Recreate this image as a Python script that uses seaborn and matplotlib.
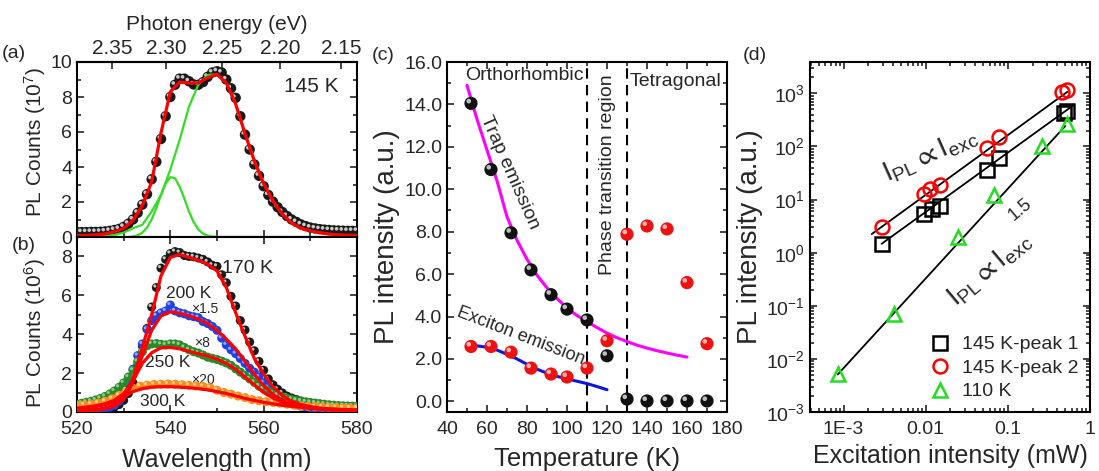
import numpy as np
import matplotlib
matplotlib.use("Agg")
import matplotlib.pyplot as plt
import matplotlib.transforms as mtransforms
from matplotlib.ticker import MultipleLocator, FixedLocator, LogLocator, NullFormatter, FuncFormatter
from matplotlib.lines import Line2D
import seaborn as sns

sns.set_style("ticks")
plt.rcParams["font.family"] = ["Liberation Sans", "DejaVu Sans"]
plt.rcParams["mathtext.fontset"] = "custom"
plt.rcParams["mathtext.rm"] = "Liberation Sans"
plt.rcParams["mathtext.it"] = "Liberation Sans:italic"
plt.rcParams["mathtext.default"] = "regular"
plt.rcParams["xtick.direction"] = "in"
plt.rcParams["ytick.direction"] = "in"
plt.rcParams["axes.linewidth"] = 1.5
plt.rcParams["axes.edgecolor"] = "black"

# ---------------- data ----------------
# (a) 145 K spectrum, 10^7 counts
wl_1nm = np.arange(520, 581)
wl_2nm = np.arange(520, 581, 2)
wl_300 = np.arange(520, 580.1, 1.5)

pl_145 = [0.28, 0.28, 0.28, 0.29, 0.29, 0.30, 0.32, 0.35, 0.40, 0.46,
          0.58, 0.76, 1.00, 1.38, 1.85, 2.45, 3.30, 4.30, 5.60, 6.90,
          8.00, 8.70, 9.05, 9.05, 8.90, 8.72, 8.70, 8.85, 9.15, 9.40,
          9.47, 9.40, 9.00, 8.50, 7.95, 6.90, 5.85, 5.00, 4.15, 3.50,
          2.90, 2.40, 2.02, 1.70, 1.43, 1.20, 1.00, 0.86, 0.72, 0.62,
          0.54, 0.49, 0.45, 0.42, 0.40, 0.38, 0.37, 0.36, 0.35, 0.35, 0.35]
fit_145 = [0.08, 0.09, 0.12, 0.18, 0.30, 0.50, 0.95, 1.80, 3.15, 5.95,
           8.30, 8.85, 8.80, 8.80, 9.10, 9.30, 8.80, 7.60, 5.90, 4.35,
           3.05, 2.05, 1.30, 0.80, 0.50, 0.35, 0.25, 0.17, 0.12, 0.10, 0.08]
peak1_145 = [0.0, 0.0, 0.0, 0.0, 0.0, 0.0, 0.0, 0.0, 0.0, 0.0,
             0.0, 0.0, 0.03, 0.10, 0.25, 0.53, 1.00, 1.66, 2.41, 3.05,
             3.42, 3.36, 2.87, 2.20, 1.45, 0.85, 0.43, 0.19, 0.08, 0.03,
             0.01, 0.0, 0.0, 0.0, 0.0, 0.0, 0.0, 0.0, 0.0, 0.0,
             0.0, 0.0, 0.0, 0.0, 0.0, 0.0, 0.0, 0.0, 0.0, 0.0,
             0.0, 0.0, 0.0, 0.0, 0.0, 0.0, 0.0, 0.0, 0.0, 0.0, 0.0]
peak2_145 = [0.0, 0.01, 0.02, 0.05, 0.12, 0.25, 0.50, 0.70, 1.45, 2.40,
             3.85, 5.55, 7.45, 8.70, 9.25, 9.30, 8.80, 7.60, 5.90, 4.35,
             3.05, 2.05, 1.30, 0.80, 0.50, 0.35, 0.25, 0.17, 0.12, 0.10, 0.08]

# (b) spectra at higher temperature, 10^6 counts (scaled)
pl_170 = [0.05, 0.05, 0.06, 0.07, 0.08, 0.10, 0.13, 0.18, 0.25, 0.38,
          0.60, 0.95, 1.50, 2.40, 3.40, 4.30, 5.40, 6.40, 7.40, 7.85,
          8.15, 8.25, 8.20, 8.05, 8.00, 7.98, 7.92, 7.85, 7.72, 7.55,
          7.49, 7.06, 6.65, 5.95, 5.45, 4.70, 4.22, 3.60, 3.15, 2.60,
          2.15, 1.70, 1.40, 1.17, 0.98, 0.82, 0.72, 0.64, 0.56, 0.50,
          0.45, 0.40, 0.36, 0.32, 0.29, 0.26, 0.24, 0.22, 0.20, 0.19, 0.18]
pl_200 = [0.10, 0.10, 0.11, 0.12, 0.13, 0.15, 0.18, 0.25, 0.35, 0.55,
          0.90, 1.45, 2.20, 2.90, 3.50, 4.25, 4.70, 4.95, 5.10, 5.20,
          5.50, 5.20, 5.10, 5.05, 4.95, 4.90, 4.85, 4.65, 4.55, 4.40,
          4.20, 3.80, 3.45, 3.20, 3.00, 2.75, 2.50, 2.25, 2.05, 1.80,
          1.50, 1.25, 1.00, 0.80, 0.65, 0.52, 0.43, 0.36, 0.30, 0.26,
          0.23, 0.20, 0.18, 0.16, 0.15, 0.14, 0.13, 0.12, 0.12, 0.11, 0.11]
pl_250 = [0.40, 0.45, 0.50, 0.55, 0.62, 0.70, 0.80, 0.93, 1.08, 1.27,
          1.50, 1.80, 2.15, 2.60, 3.10, 3.40, 3.50, 3.52, 3.48, 3.45,
          3.50, 3.50, 3.45, 3.32, 3.20, 3.10, 3.03, 2.93, 2.82, 2.76,
          2.70, 2.62, 2.52, 2.40, 2.22, 2.05, 1.88, 1.70, 1.52, 1.33,
          1.20, 1.07, 0.96, 0.86, 0.78, 0.71, 0.65, 0.60, 0.56, 0.52,
          0.49, 0.46, 0.43, 0.40, 0.37, 0.35, 0.33, 0.32, 0.31, 0.30, 0.29]
pl_300 = [0.33, 0.36, 0.40, 0.46, 0.55, 0.68, 0.85, 1.03, 1.22, 1.33,
          1.38, 1.42, 1.43, 1.44, 1.43, 1.40, 1.37, 1.34, 1.31, 1.25,
          1.12, 1.00, 0.92, 0.82, 0.74, 0.64, 0.58, 0.53, 0.49, 0.45,
          0.40, 0.35, 0.32, 0.29, 0.27, 0.26, 0.24, 0.22, 0.21, 0.20, 0.19]
fit_170 = [0.05, 0.08, 0.12, 0.20, 0.40, 0.75, 1.70, 3.30, 5.00, 7.00,
           7.95, 8.10, 7.95, 7.80, 7.60, 7.25, 6.40, 5.10, 3.90, 2.75,
           1.95, 1.30, 0.85, 0.55, 0.38, 0.28, 0.20, 0.15, 0.12, 0.10, 0.09]
fit_200 = [0.05, 0.07, 0.10, 0.15, 0.30, 0.65, 1.50, 2.90, 4.20, 4.95,
           5.15, 5.08, 4.95, 4.78, 4.55, 4.20, 3.75, 3.25, 2.60, 1.95,
           1.35, 0.90, 0.60, 0.40, 0.28, 0.20, 0.15, 0.12, 0.10, 0.09, 0.08]
fit_250 = [0.20, 0.25, 0.32, 0.42, 0.60, 0.95, 1.60, 2.50, 3.05, 3.30,
           3.32, 3.25, 3.12, 3.00, 2.88, 2.72, 2.50, 2.20, 1.80, 1.40,
           1.00, 0.72, 0.50, 0.35, 0.25, 0.18, 0.14, 0.11, 0.09, 0.08, 0.07]
fit_300 = [0.18, 0.22, 0.28, 0.38, 0.55, 0.80, 1.05, 1.20, 1.28, 1.30,
           1.30, 1.28, 1.25, 1.20, 1.14, 1.05, 0.95, 0.83, 0.70, 0.60,
           0.50, 0.42, 0.35, 0.29, 0.25, 0.21, 0.18, 0.16, 0.14, 0.12, 0.11]

# (c) integrated intensity vs temperature
temp_c = [52, 62, 72, 82, 92, 100, 110, 120, 130, 140, 150, 160, 170]
trap_c = [14.05, 10.93, 7.95, 6.20, 5.03, 4.35, 3.84, 2.15, 0.11, 0.02, 0.02, 0.02, 0.02]
exciton_c = [2.59, 2.59, 2.32, 1.57, 1.29, 1.15, 1.57, 2.86, 7.88, 8.27, 8.13, 5.60, 2.72]
temp_trap_fit = np.arange(50, 161, 5)
trap_fit = [14.9, 13.3, 11.85, 10.4, 8.7, 7.6, 6.7, 5.95, 5.35, 4.85, 4.4, 4.05,
            3.76, 3.48, 3.22, 3.0, 2.82, 2.65, 2.51, 2.39, 2.28, 2.18, 2.09]
temp_exc_fit = np.arange(50, 121, 5)
exc_fit = [2.65, 2.62, 2.55, 2.42, 2.22, 2.0, 1.75, 1.52, 1.33, 1.18, 1.06, 0.95, 0.84, 0.7, 0.55]

# (d) power dependence
exc_p1 = [0.0029, 0.0095, 0.012, 0.0151, 0.055, 0.078, 0.48, 0.53]
pl_p1 = [1.45, 5.4, 6.6, 7.7, 36, 60, 430, 465]
exc_p2 = [0.0029, 0.0094, 0.0114, 0.0151, 0.055, 0.078, 0.46, 0.53]
pl_p2 = [3.0, 13, 16, 19, 93, 149, 1050, 1150]
exc_110 = [0.00085, 0.0041, 0.0248, 0.068, 0.263, 0.53]
pl_110 = [0.0051, 0.071, 2.0, 12, 104, 265]
fit_p1_x, fit_p1_y = [0.0029, 0.63], [1.47, 600]
fit_p2_x, fit_p2_y = [0.0022, 0.53], [2.24, 1070]
fit_110_x, fit_110_y = [0.00085, 0.5], [0.0051, 243]

# ---------------- figure ----------------
W, H = 1099, 471
fig = plt.figure(figsize=(W / 100, H / 100), dpi=100)


def box(l, t, r, b):
    return [l / W, 1 - b / H, (r - l) / W, (b - t) / H]


ax_a = fig.add_axes(box(77, 62, 357, 237))
ax_b = fig.add_axes(box(77, 237, 357, 412))
ax_c = fig.add_axes(box(447, 62, 727, 412))
ax_d = fig.add_axes(box(810, 62, 1090, 412))


def spheres(ax, x, y, color, size, hl="white", hl_size=None, z=3):
    sns.scatterplot(x=x, y=y, ax=ax, color=color, s=size ** 2,
                    edgecolor="none", linewidth=0, zorder=z, legend=False)
    hs = hl_size if hl_size else size * 0.35
    off = mtransforms.ScaledTranslation(-size * 0.17 / 72, size * 0.17 / 72,
                                        fig.dpi_scale_trans)
    ax.scatter(x, y, s=hs ** 2, color=hl, edgecolor="none", alpha=0.85,
               zorder=z + 0.1, transform=ax.transData + off)


def style(ax, fs=14):
    ax.tick_params(which="both", top=True, right=True, labelsize=fs, width=1.2)
    ax.tick_params(which="major", length=5)
    ax.tick_params(which="minor", length=3)
    ax.tick_params(axis="x", pad=6.5)


# (a)
spheres(ax_a, wl_1nm, pl_145, "#1a1a1a", 7.5, hl="#e8e8e8", z=3)
sns.lineplot(x=wl_1nm, y=peak1_145, ax=ax_a, color="#33dd22", lw=1.6, zorder=4)
sns.lineplot(x=wl_2nm, y=peak2_145, ax=ax_a, color="#33dd22", lw=1.6, zorder=4)
sns.lineplot(x=wl_2nm, y=fit_145, ax=ax_a, color="red", lw=2.3, zorder=5)
ax_a.set_xlim(520, 580)
ax_a.set_ylim(0, 10)
ax_a.xaxis.set_major_locator(MultipleLocator(10))
ax_a.yaxis.set_major_locator(MultipleLocator(2))
ax_a.yaxis.set_minor_locator(MultipleLocator(1))
style(ax_a)
ax_a.tick_params(labelbottom=False, top=False)
ax_a.set_ylabel("PL Counts (10$^7$)", fontsize=15)
ax_a.yaxis.set_label_coords(-0.104, 0.545)
ax_a.text(576, 8.6, "145 K", fontsize=15, ha="right", va="center")
sec = ax_a.secondary_xaxis("top", functions=(lambda w: 1239.84 / w, lambda e: 1239.84 / e))
sec.xaxis.set_major_locator(FixedLocator([2.35, 2.30, 2.25, 2.20, 2.15]))
sec.xaxis.set_major_formatter(FuncFormatter(lambda v, p: "%.2f" % v))
sec.tick_params(direction="in", length=5, width=1.2, labelsize=15, pad=3)
sec.set_xlabel("Photon energy (eV)", fontsize=15, labelpad=6)

# (b)
spheres(ax_b, wl_1nm, pl_170, "#1a1a1a", 6.5, hl="#e0e0e0", z=3)
spheres(ax_b, wl_1nm, pl_200, "#2040e8", 6.5, hl="#a8b8ff", z=3.2)
spheres(ax_b, wl_1nm, pl_250, "#2a8a2a", 6.5, hl="#a0d8a0", z=3.4)
spheres(ax_b, wl_300, pl_300, "#ff8c1a", 6.5, hl="#ffd8a0", z=3.6)
for f in [fit_170, fit_200, fit_250, fit_300]:
    sns.lineplot(x=wl_2nm, y=f, ax=ax_b, color="red", lw=2.3, zorder=6)
ax_b.set_xlim(520, 580)
ax_b.set_ylim(0, 9)
ax_b.xaxis.set_major_locator(MultipleLocator(20))
ax_b.xaxis.set_minor_locator(MultipleLocator(10))
ax_b.yaxis.set_major_locator(MultipleLocator(2))
ax_b.yaxis.set_minor_locator(MultipleLocator(1))
style(ax_b)
ax_b.set_ylabel("PL Counts (10$^6$)", fontsize=15)
ax_b.yaxis.set_label_coords(-0.104, 0.45)
ax_b.set_xlabel("Wavelength (nm)", fontsize=18)
ax_b.xaxis.set_label_coords(0.5, -0.203)
ax_b.text(551, 7.4, "170 K", fontsize=14, va="center")
ax_b.text(539, 6.1, "200 K", fontsize=12.5, va="center")
ax_b.text(544.5, 5.3, "\u00d71.5", fontsize=10, va="center")
ax_b.text(545, 3.55, "\u00d78", fontsize=10, va="center")
ax_b.text(534.5, 2.55, "250 K", fontsize=12.5, va="center")
ax_b.text(544.5, 1.65, "\u00d720", fontsize=10, va="center")
ax_b.text(533.5, 0.55, "300 K", fontsize=12.5, va="center")

# (c)
sns.lineplot(x=temp_trap_fit, y=trap_fit, ax=ax_c, color="#ff00ff", lw=2.2, zorder=2)
sns.lineplot(x=temp_exc_fit, y=exc_fit, ax=ax_c, color="#0a14e6", lw=2.2, zorder=2)
spheres(ax_c, temp_c, trap_c, "#111111", 9.5, hl="#dddddd", z=3)
spheres(ax_c, temp_c, exciton_c, "#ee1111", 9.5, hl="#ffd0d0", z=3)
for tx in [110, 130]:
    ax_c.axvline(tx, color="black", lw=1.5, ls=(0, (5, 3)), zorder=1)
ax_c.set_xlim(40, 180)
ax_c.set_ylim(-0.5, 16)
ax_c.xaxis.set_major_locator(MultipleLocator(20))
ax_c.xaxis.set_minor_locator(MultipleLocator(10))
ax_c.yaxis.set_major_locator(MultipleLocator(2))
ax_c.yaxis.set_minor_locator(MultipleLocator(1))
ax_c.yaxis.set_major_formatter(FuncFormatter(lambda v, p: "%.1f" % v))
style(ax_c)
ax_c.set_xlabel("Temperature (K)", fontsize=18.5)
ax_c.xaxis.set_label_coords(0.5, -0.101)
ax_c.set_ylabel("PL intensity (a.u.)", fontsize=20)
ax_c.yaxis.set_label_coords(-0.168, 0.5)
ax_c.text(49, 15.75, "Orthorhombic", fontsize=14, va="top")
ax_c.text(131.5, 15.1, "Tetragonal", fontsize=14, va="center")
ax_c.text(120.5, 10.7, "Phase transition region", fontsize=14, rotation=90,
          ha="center", va="center")
ax_c.text(71.5, 10.8, "Trap emission", fontsize=14, rotation=-66,
          ha="center", va="center", rotation_mode="anchor")
ax_c.text(77, 3.1, "Exciton emission", fontsize=13, rotation=-21,
          ha="center", va="center", rotation_mode="anchor")

# (d)
sns.lineplot(x=fit_p1_x, y=fit_p1_y, ax=ax_d, color="black", lw=1.3, zorder=2)
sns.lineplot(x=fit_p2_x, y=fit_p2_y, ax=ax_d, color="black", lw=1.3, zorder=2)
sns.lineplot(x=fit_110_x, y=fit_110_y, ax=ax_d, color="black", lw=1.3, zorder=2)
mk = dict(ls="none", mfc="none", ms=10, mew=1.8, zorder=3)
ax_d.plot(exc_p1, pl_p1, marker="s", mec="black", **mk)
ax_d.plot(exc_p2, pl_p2, marker="o", mec="red", **mk)
ax_d.plot(exc_110, pl_110, marker="^", mec="#22dd22", **mk)
ax_d.set_xscale("log")
ax_d.set_yscale("log")
ax_d.set_xlim(3.9e-4, 1.0)
ax_d.set_ylim(1e-3, 3.9e3)
ax_d.xaxis.set_major_locator(FixedLocator([1e-3, 1e-2, 1e-1, 1]))
ax_d.xaxis.set_major_formatter(FuncFormatter(
    lambda v, p: {-3: "1E-3", -2: "0.01", -1: "0.1", 0: "1"}.get(int(round(np.log10(v))), "")))
ax_d.xaxis.set_minor_locator(LogLocator(base=10, subs=np.arange(2, 10)))
ax_d.xaxis.set_minor_formatter(NullFormatter())
ax_d.yaxis.set_major_locator(LogLocator(base=10, numticks=10))
ax_d.yaxis.set_major_formatter(FuncFormatter(lambda v, p: r"$10^{%d}$" % int(round(np.log10(v)))))
ax_d.yaxis.set_minor_locator(LogLocator(base=10, subs=np.arange(2, 10), numticks=20))
ax_d.yaxis.set_minor_formatter(NullFormatter())
style(ax_d)
ax_d.set_xlabel("Excitation intensity (mW)", fontsize=18)
ax_d.xaxis.set_label_coords(0.5, -0.09)
ax_d.set_ylabel("PL intensity (a.u.)", fontsize=20)
ax_d.yaxis.set_label_coords(-0.168, 0.5)
ax_d.text(0.0114, 69, r"$I_{PL}\propto I_{exc}$", fontsize=20, rotation=24,
          ha="center", va="center", rotation_mode="anchor")
ax_d.text(0.06, 0.5, r"$I_{PL}\propto I_{exc}$", fontsize=20, rotation=40,
          ha="center", va="center", rotation_mode="anchor")
ax_d.text(0.143, 6.4, "1.5", fontsize=13, rotation=40, ha="center", va="center")
handles = [Line2D([], [], marker="s", ls="none", mfc="none", mec="black", ms=10, mew=1.8),
           Line2D([], [], marker="o", ls="none", mfc="none", mec="red", ms=10, mew=1.8),
           Line2D([], [], marker="^", ls="none", mfc="none", mec="#22dd22", ms=10, mew=1.8)]
ax_d.legend(handles, ["145 K-peak 1", "145 K-peak 2", "110 K"], loc="lower right",
            bbox_to_anchor=(1.0, 0.0), frameon=False, fontsize=14,
            handletextpad=0.5, handlelength=1.2, labelspacing=0.3, borderaxespad=0.2)

# panel letters
fig.text(2 / W, 1 - 53 / H, "(a)", fontsize=14, va="center")
fig.text(12 / W, 1 - 246 / H, "(b)", fontsize=14, va="center")
fig.text(372 / W, 1 - 56 / H, "(c)", fontsize=14, va="center")
fig.text(743 / W, 1 - 56 / H, "(d)", fontsize=14, va="center")

fig.savefig("out.png", dpi=100)
